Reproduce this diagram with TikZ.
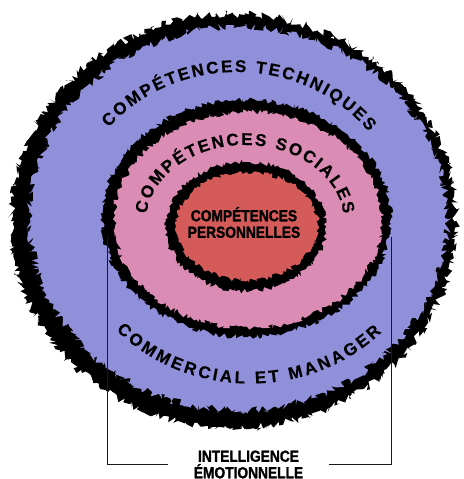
\documentclass[tikz,border=0pt]{standalone}
\usepackage{fontspec}
\usepackage{xcolor}
\usetikzlibrary{decorations.pathmorphing,decorations.text,positioning}
\newfontfamily\ringfont[BoldFeatures={FakeBold=0.3}]{Liberation Sans}
\newfontfamily\labelfont[FakeStretch=0.86,BoldFeatures={FakeBold=1.4}]{Liberation Sans}
\newcommand\ringsize{\ringfont\bfseries\fontsize{17}{17}\selectfont}
\definecolor{Outer}{HTML}{8F8FDA}
\definecolor{Social}{HTML}{DB8CB4}
\definecolor{Core}{HTML}{D55B5B}
\definecolor{Ink}{HTML}{1A1A1A}

\begin{document}
\begin{tikzpicture}[x=1pt,y=1pt,
  rough/.style={decorate,decoration={random steps,segment length=2.2pt,amplitude=#1}},
  arctext/.style={decorate,decoration={text along path,text align={fit to path},
    text={|\ringsize|#1}}},
  bracket/.style={draw=Ink,line width=0.8pt},
  centertext/.style={font=\labelfont\bfseries\fontsize{16}{16.5}\selectfont,
    align=center,inner sep=0pt}]
\pgfmathsetseed{12}
\clip (0,0) rectangle (463,479);
\fill[white] (0,0) rectangle (463,479);

% rings from the outside in: ragged black disc, then the coloured disc set a bit off-centre in it
\foreach \fc/\bx/\by/\brx/\bry/\ix/\iy/\irx/\iry/\amp in {
    Outer/233.5/258/222.5/207/238.5/260.5/208.5/191.5/4pt,
    Social/246.5/260.5/144.5/118.5/248/259/134/108/2.6pt,
    Core/246/252.5/80/64.5/247/253/71/54/2.4pt}{
  \fill[black,rough=\amp] (\bx,\by) ellipse[x radius=\brx*1pt,y radius=\bry*1pt];
  \fill[\fc,rough=\amp] (\ix,\iy) ellipse[x radius=\irx*1pt,y radius=\iry*1pt];
}

\path[arctext={COMPÉTENCES TECHNIQUES}] (237,257) ++(141:165pt and 150pt)
  arc[start angle=141,end angle=37,x radius=165pt,y radius=150pt];
\path[arctext={COMPÉTENCES SOCIALES}] (245,257) ++(174:99pt and 77pt)
  arc[start angle=174,end angle=6,x radius=99pt,y radius=77pt];
\path[arctext={COMMERCIAL ET MANAGER}] (250,257) ++(222:180pt and 161.5pt)
  arc[start angle=222,end angle=317,x radius=180pt,y radius=161.5pt];

\node[centertext] (core) at (244,256.5) {COMPÉTENCES\\PERSONNELLES};
\node[centertext,inner xsep=26pt] (emotion) at (248.5,14.5) {INTELLIGENCE\\ÉMOTIONNELLE};

\coordinate (socialW) at (107,242);
\coordinate (socialE) at (391,242);
\draw[bracket] (socialW) |- (emotion.west);
\draw[bracket] (socialE) |- (emotion.east);
\end{tikzpicture}
\end{document}
